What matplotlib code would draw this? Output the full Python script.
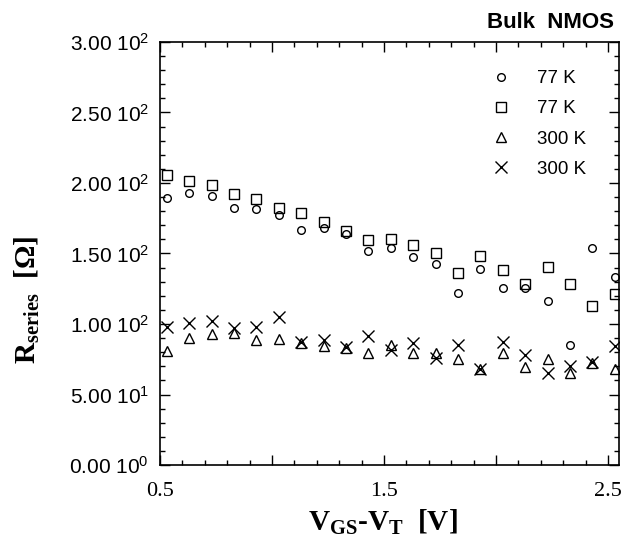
import matplotlib
matplotlib.use("Agg")
import matplotlib.pyplot as plt
from matplotlib.ticker import MultipleLocator, FixedLocator, FixedFormatter

plt.rcParams['mathtext.fontset'] = 'custom'
plt.rcParams['mathtext.rm'] = 'Liberation Sans'
plt.rcParams['mathtext.bf'] = 'Liberation Serif:bold'
plt.rcParams['mathtext.it'] = 'Liberation Sans:italic'

# data
vgs = [0.53, 0.63, 0.73, 0.83, 0.93, 1.03, 1.13, 1.23, 1.33, 1.43, 1.53,
       1.63, 1.73, 1.83, 1.93, 2.03, 2.13, 2.23, 2.33, 2.43, 2.53]
r77_circle = [189.7, 192.6, 190.6, 182.6, 181.9, 177.4, 166.5, 168.2, 163.5, 151.9, 153.6,
              147.6, 142.9, 121.7, 139.1, 125.7, 125.2, 116.0, 85.0, 154.0, 133.0]
r77_square = [206.0, 201.3, 198.4, 192.3, 188.3, 182.4, 178.6, 172.4, 166.3, 159.3, 160.2,
              155.7, 150.5, 136.3, 148.3, 138.0, 128.3, 140.3, 128.3, 112.9, 121.0]
r300_tri = [81.0, 90.2, 92.8, 93.8, 88.6, 89.3, 86.2, 84.3, 82.7, 79.6, 85.0,
            79.2, 79.2, 74.9, 67.8, 79.6, 69.7, 74.9, 65.0, 72.0, 67.8]
r300_x = [97.6, 100.4, 102.3, 96.9, 98.0, 104.7, 87.4, 88.6, 83.4, 91.4, 81.5,
          86.7, 75.6, 85.0, 67.8, 87.4, 78.0, 65.4, 70.2, 73.0, 84.3]
legend_labels = ["77 K", "77 K", "300 K", "300 K"]

yticks = [0, 50, 100, 150, 200, 250, 300]
ytick_labels = ["0.00 10$^{0}$", "5.00 10$^{1}$", "1.00 10$^{2}$", "1.50 10$^{2}$",
                "2.00 10$^{2}$", "2.50 10$^{2}$", "3.00 10$^{2}$"]
xticks = [0.5, 1.0, 1.5, 2.0, 2.5]
xtick_labels = ["0.5", "", "1.5", "", "2.5"]

fig = plt.figure(figsize=(6.21, 5.47), dpi=100)
ax = fig.add_axes([160/621, 1-465/547, 459/621, 423/547])

mk = dict(linestyle='none', color='black', markerfacecolor='none', markeredgewidth=1.0)
ax.plot(vgs, r77_circle, marker='o', markersize=5.5, label=legend_labels[0], **mk)
ax.plot(vgs, r77_square, marker='s', markersize=6.5, label=legend_labels[1], **mk)
ax.plot(vgs, r300_tri, marker='^', markersize=7.5, label=legend_labels[2], **mk)
ax.plot(vgs, r300_x, marker='x', markersize=8, label=legend_labels[3], **mk)

ax.set_xlim(0.5, 2.549)
ax.set_ylim(0, 300)

ax.xaxis.set_major_locator(FixedLocator(xticks))
ax.xaxis.set_major_formatter(FixedFormatter(xtick_labels))
ax.xaxis.set_minor_locator(MultipleLocator(0.1))
ax.yaxis.set_major_locator(FixedLocator(yticks))
ax.yaxis.set_major_formatter(FixedFormatter(ytick_labels))
ax.yaxis.set_minor_locator(MultipleLocator(10))

ax.tick_params(which='both', direction='in', top=True, right=True, width=1.0)
ax.tick_params(which='major', length=7)
ax.tick_params(which='minor', length=3.5)
ax.tick_params(axis='x', pad=12)
ax.tick_params(axis='y', pad=8)
for lbl in ax.get_xticklabels():
    lbl.set_fontfamily('Liberation Serif')
    lbl.set_fontsize(16)
for lbl in ax.get_yticklabels():
    lbl.set_fontfamily('Liberation Sans')
    lbl.set_fontsize(15)
for s in ax.spines.values():
    s.set_linewidth(1.2)

fig.text(383/621, 1-522/547, r"V$_{\mathbf{GS}}$-V$_{\mathbf{T}}$  [V]", ha='center', va='center',
         fontfamily='Liberation Serif', fontweight='bold', fontsize=21)
fig.text(27/621, 1-300/547, r"R$_{\mathbf{series}}$  [Ω]", ha='center', va='center', rotation=90,
         fontfamily='Liberation Serif', fontweight='bold', fontsize=21)
fig.text(614/621, 1-23/547, "Bulk  NMOS", ha='right', va='center',
         fontfamily='Liberation Sans', fontweight='bold', fontsize=16)

leg = ax.legend(loc='upper left', bbox_to_anchor=((491.6-160)/459, (465-70)/423), frameon=False,
                prop={'family': 'Liberation Sans', 'size': 13.5}, handlelength=1.0,
                handletextpad=1.42, labelspacing=0.7, numpoints=1,
                borderpad=0, borderaxespad=0)

fig.savefig("out.png", dpi=100)
